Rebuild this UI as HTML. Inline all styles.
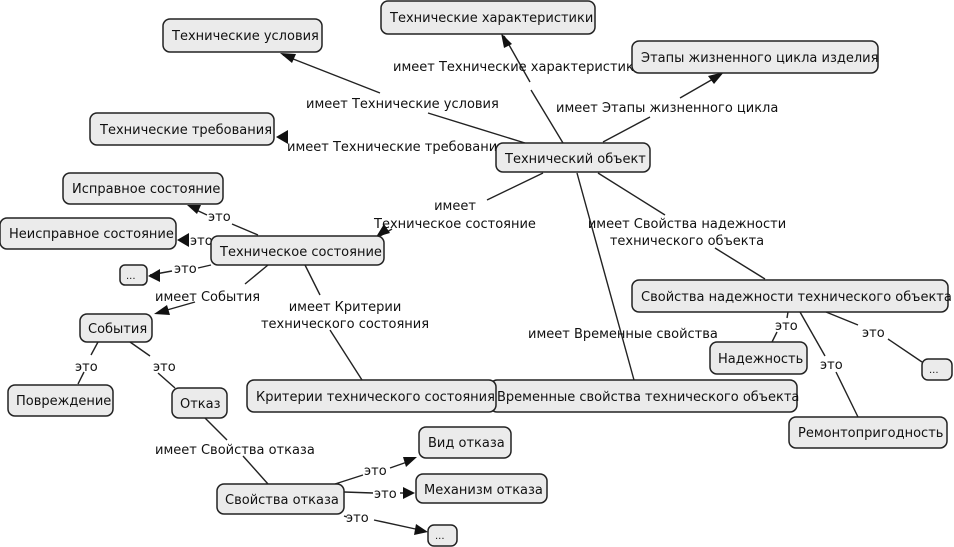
<!DOCTYPE html>
<html><head><meta charset="utf-8"><style>
body{margin:0;background:#fff;width:954px;height:547px;overflow:hidden}
svg{display:block}
text{font-family:"DejaVu Sans","Liberation Sans",sans-serif;font-size:13px;fill:#111}
.n rect{fill:#ebebeb;stroke:#222;stroke-width:1.5}
line,polyline{stroke:#222;stroke-width:1.4;fill:none}
.a{fill:#111}
</style></head><body>
<svg width="954" height="547" viewBox="0 0 954 547">
<!-- edges -->
<line x1="283" y1="55" x2="380" y2="93"/><line x1="428" y1="113" x2="525" y2="143"/>
<polygon class="a" points="280,53 296,54 292,63"/>
<line x1="504" y1="36" x2="530" y2="82"/><line x1="531" y1="90" x2="563" y2="143"/>
<polygon class="a" points="501,33 504,48 512,44"/>
<line x1="720" y1="75" x2="680" y2="98"/><line x1="650" y1="117" x2="603" y2="142"/>
<polygon class="a" points="724,72 708,76 714,84"/>
<polygon class="a" points="276,137 288,130 288,144"/>
<line x1="543" y1="173" x2="487" y2="200"/>
<line x1="380" y1="236" x2="392" y2="229"/>
<polygon class="a" points="376,237 384,224 390,233"/>
<line x1="598" y1="173" x2="665" y2="215"/><line x1="715" y1="248" x2="765" y2="279"/>
<line x1="577" y1="173" x2="634" y2="380"/>
<line x1="192" y1="208" x2="207" y2="215"/><line x1="232" y1="224" x2="258" y2="235"/>
<polygon class="a" points="187,205 201,205 197,214"/>
<polygon class="a" points="177,240 189,233 189,247"/>
<line x1="150" y1="275" x2="172" y2="271"/><line x1="198" y1="268" x2="211" y2="265"/>
<polygon class="a" points="148,276 160,269 160,282"/>
<line x1="268" y1="265" x2="245" y2="284"/>
<line x1="195" y1="302" x2="160" y2="312"/>
<polygon class="a" points="154,314 167,305 170,315"/>
<line x1="305" y1="265" x2="320" y2="295"/><line x1="330" y1="330" x2="362" y2="380"/>
<line x1="98" y1="342" x2="91" y2="355"/><line x1="84" y1="372" x2="78" y2="384"/>
<line x1="130" y1="342" x2="150" y2="356"/><line x1="158" y1="373" x2="175" y2="388"/>
<line x1="205" y1="418" x2="227" y2="440"/><line x1="243" y1="456" x2="268" y2="484"/>
<line x1="335" y1="484" x2="363" y2="475"/><line x1="390" y1="468" x2="410" y2="461"/>
<polygon class="a" points="417,457 403,457 406,467"/>
<line x1="344" y1="492" x2="373" y2="493"/><line x1="400" y1="493" x2="408" y2="493"/>
<polygon class="a" points="415,493 403,487 403,499"/>
<line x1="344" y1="516" x2="347" y2="517"/><line x1="374" y1="520" x2="420" y2="530"/>
<polygon class="a" points="428,532 416,524 414,535"/>
<line x1="788" y1="312" x2="787" y2="318"/><line x1="777" y1="332" x2="772" y2="342"/>
<line x1="800" y1="312" x2="825" y2="356"/><line x1="836" y1="372" x2="858" y2="417"/>
<line x1="826" y1="312" x2="858" y2="325"/><line x1="888" y1="339" x2="922" y2="362"/>
<!-- labels -->
<text x="306" y="108">имеет Технические условия</text>
<text x="393" y="71">имеет Технические характеристики</text>
<text x="556" y="112">имеет Этапы жизненного цикла</text>
<text x="287" y="151">имеет Технические требования</text>
<text x="455" y="210" text-anchor="middle">имеет</text>
<text x="455" y="228" text-anchor="middle">Техническое состояние</text>
<text x="687" y="228" text-anchor="middle">имеет Свойства надежности</text>
<text x="687" y="245" text-anchor="middle">технического объекта</text>
<text x="528" y="338">имеет Временные свойства</text>
<text x="208" y="221">это</text>
<text x="190" y="245">это</text>
<text x="174" y="273">это</text>
<text x="155" y="301">имеет События</text>
<text x="345" y="311" text-anchor="middle">имеет Критерии</text>
<text x="345" y="328" text-anchor="middle">технического состояния</text>
<text x="75" y="371">это</text>
<text x="153" y="371">это</text>
<text x="155" y="454">имеет Свойства отказа</text>
<text x="364" y="475">это</text>
<text x="374" y="498">это</text>
<text x="346" y="522">это</text>
<text x="775" y="330">это</text>
<text x="820" y="369">это</text>
<text x="862" y="337">это</text>
<!-- nodes -->
<g class="n">
<rect x="163" y="19" width="159" height="33" rx="7"/><text x="172" y="40">Технические условия</text>
<rect x="381" y="1" width="214" height="33" rx="7"/><text x="390" y="22">Технические характеристики</text>
<rect x="632" y="41" width="246" height="32" rx="7"/><text x="641" y="62">Этапы жизненного цикла изделия</text>
<rect x="90" y="113" width="184" height="32" rx="7"/><text x="100" y="134">Технические требования</text>
<rect x="496" y="143" width="154" height="29" rx="7"/><text x="505" y="163">Технический объект</text>
<rect x="63" y="173" width="160" height="31" rx="7"/><text x="72" y="193">Исправное состояние</text>
<rect x="0" y="218" width="176" height="31" rx="7"/><text x="9" y="238">Неисправное состояние</text>
<rect x="211" y="236" width="173" height="29" rx="7"/><text x="220" y="256">Техническое состояние</text>
<rect x="120" y="265" width="27" height="20" rx="5"/><text x="126" y="279" style="font-size:10px">...</text>
<rect x="80" y="314" width="72" height="28" rx="7"/><text x="88" y="333">События</text>
<rect x="8" y="385" width="105" height="31" rx="7"/><text x="16" y="405">Повреждение</text>
<rect x="172" y="388" width="55" height="30" rx="7"/><text x="180" y="408">Отказ</text>
<rect x="490" y="380" width="307" height="32" rx="7"/><text x="497" y="401">Временные свойства технического объекта</text>
<rect x="247" y="380" width="249" height="32" rx="7"/><text x="256" y="401">Критерии технического состояния</text>
<rect x="632" y="280" width="316" height="32" rx="7"/><text x="641" y="301">Свойства надежности технического объекта</text>
<rect x="710" y="342" width="97" height="32" rx="7"/><text x="718" y="363">Надежность</text>
<rect x="922" y="359" width="30" height="21" rx="6"/><text x="929" y="373" style="font-size:10px">...</text>
<rect x="789" y="417" width="158" height="31" rx="7"/><text x="798" y="437">Ремонтопригодность</text>
<rect x="419" y="427" width="92" height="31" rx="7"/><text x="428" y="447">Вид отказа</text>
<rect x="416" y="474" width="131" height="29" rx="7"/><text x="424" y="494">Механизм отказа</text>
<rect x="217" y="484" width="127" height="30" rx="7"/><text x="225" y="504">Свойства отказа</text>
<rect x="428" y="525" width="29" height="21" rx="6"/><text x="435" y="539" style="font-size:10px">...</text>
</g>
</svg>
</body></html>
